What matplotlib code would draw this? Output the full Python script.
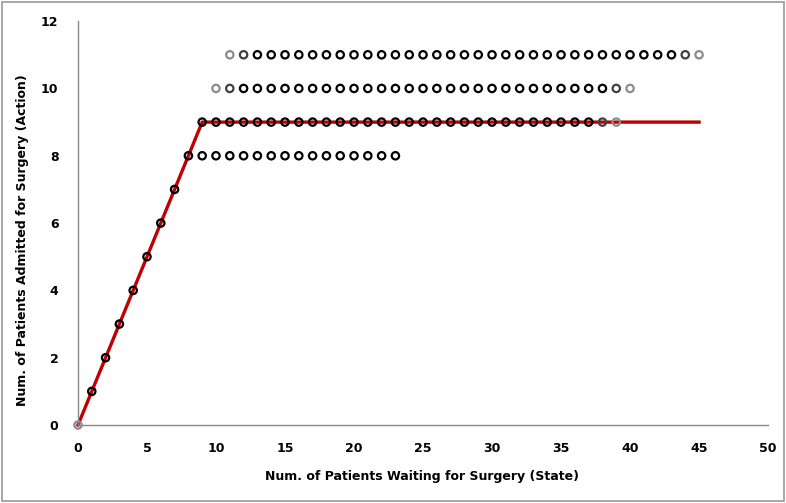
import matplotlib
matplotlib.use("Agg")
import matplotlib.pyplot as plt
from matplotlib.patches import Rectangle
import numpy as np

# policy rows: (action value, first state, last state)
diag_x = [0, 1, 2, 3, 4, 5, 6, 7, 8]
row8_x = list(range(9, 24))
row9_x = list(range(9, 40))
row10_x = list(range(10, 41))
row11_x = list(range(11, 46))

# points drawn lighter at the ends of the rows
light_pts = [(0, 0), (39, 9), (10, 10), (40, 10), (11, 11), (45, 11)]
mid_pts = [(38, 9), (11, 10), (39, 10), (12, 11), (44, 11)]

# optimal policy line
line_x = [0, 9, 45]
line_y = [0, 9, 9]

fig = plt.figure(figsize=(7.86, 5.03), dpi=100)
ax = fig.add_axes([0.0992, 0.155, 0.878, 0.803])

pts = [(x, x) for x in diag_x] + [(x, 8) for x in row8_x] + [(x, 9) for x in row9_x] \
    + [(x, 10) for x in row10_x] + [(x, 11) for x in row11_x]
xs = np.array([p[0] for p in pts])
ys = np.array([p[1] for p in pts])
cols = []
for p in pts:
    if p in light_pts:
        cols.append("#8c8c8c")
    elif p in mid_pts:
        cols.append("#404040")
    else:
        cols.append("black")

ax.plot(line_x, line_y, color="#c00000", lw=2.4, zorder=2, clip_on=False)
ax.scatter(xs, ys, s=28, facecolors="none", edgecolors=cols, linewidths=1.6, zorder=3, clip_on=False)

ax.set_xlim(0, 50)
ax.set_ylim(0, 12)
ax.set_xticks(range(0, 51, 5))
ax.set_yticks(range(0, 13, 2))
for s in ["top", "right"]:
    ax.spines[s].set_visible(False)
for s in ["left", "bottom"]:
    ax.spines[s].set_color("#888888")
    ax.spines[s].set_linewidth(1)
ax.tick_params(length=0, labelsize=9)
for lab in ax.get_xticklabels() + ax.get_yticklabels():
    lab.set_fontweight("bold")
ax.xaxis.set_tick_params(pad=12)
ax.yaxis.set_tick_params(pad=14)
ax.set_xlabel("Num. of Patients Waiting for Surgery (State)", fontsize=9, fontweight="bold")
ax.set_ylabel("Num. of Patients Admitted for Surgery (Action)", fontsize=9, fontweight="bold")
ax.xaxis.set_label_coords(0.499, -0.111)
ax.yaxis.set_label_coords(-0.071, 0.457)

fig.patches.append(Rectangle((0.003, 0.004), 0.994, 0.992, transform=fig.transFigure,
                             fill=False, edgecolor="#9a9a9a", lw=1.2))

fig.savefig("out.png", dpi=100)
